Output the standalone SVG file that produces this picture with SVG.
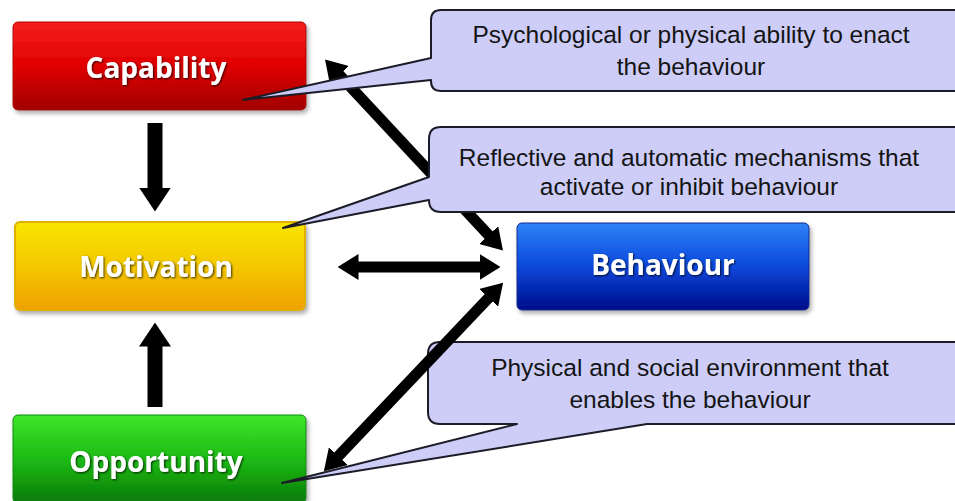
<svg xmlns="http://www.w3.org/2000/svg" width="955" height="501" viewBox="0 0 955 501">
<defs>
  <linearGradient id="gRed" x1="0" y1="0" x2="0" y2="1">
    <stop offset="0" stop-color="#f42020"/>
    <stop offset="0.5" stop-color="#e00000"/>
    <stop offset="1" stop-color="#a00000"/>
  </linearGradient>
  <linearGradient id="gYellow" x1="0" y1="0" x2="0" y2="1">
    <stop offset="0" stop-color="#f8e600"/>
    <stop offset="0.5" stop-color="#f4c800"/>
    <stop offset="1" stop-color="#f0a000"/>
  </linearGradient>
  <linearGradient id="gGreen" x1="0" y1="0" x2="0" y2="1">
    <stop offset="0" stop-color="#3ee52a"/>
    <stop offset="0.5" stop-color="#1dbb14"/>
    <stop offset="1" stop-color="#097a09"/>
  </linearGradient>
  <linearGradient id="gBlue" x1="0" y1="0" x2="0" y2="1">
    <stop offset="0" stop-color="#2f82f6"/>
    <stop offset="0.5" stop-color="#0a48dc"/>
    <stop offset="1" stop-color="#000c8a"/>
  </linearGradient>
  <filter id="boxShadow" x="-10%" y="-10%" width="125%" height="130%">
    <feDropShadow dx="2" dy="3" stdDeviation="2" flood-color="#777" flood-opacity="0.6"/>
  </filter>
  <filter id="txtShadow" x="-10%" y="-20%" width="125%" height="150%">
    <feDropShadow dx="1" dy="1" stdDeviation="0.8" flood-color="#000" flood-opacity="0.8"/>
  </filter>
  <marker id="headBig" markerUnits="userSpaceOnUse" viewBox="0 0 24 32" markerWidth="24" markerHeight="32" refX="0.5" refY="16" orient="auto-start-reverse">
    <path d="M0,0 L24,16 L0,32 Z" fill="#000"/>
  </marker>
  <marker id="headSmall" markerUnits="userSpaceOnUse" viewBox="0 0 21 26" markerWidth="21" markerHeight="26" refX="0.5" refY="13" orient="auto-start-reverse">
    <path d="M0,0 L21,13 L0,26 Z" fill="#000"/>
  </marker>
</defs>
<style>
  .box text { font-family: "Open Sans", "DejaVu Sans", sans-serif; font-weight: bold; font-size: 28px; fill: #fff; text-anchor: middle; filter: url(#txtShadow); }
  .callout path { fill: #cdcdf7; stroke: #1c1c28; stroke-width: 2; stroke-linejoin: round; }
  .callout text { font-family: "Liberation Sans", Arial, sans-serif; font-size: 24.5px; fill: #141414; text-anchor: middle; }
  .big { stroke: #000; stroke-width: 15; fill: none; marker-end: url(#headBig); }
  .dbl { stroke: #000; stroke-width: 11; fill: none; marker-start: url(#headSmall); marker-end: url(#headSmall); }
</style>
<rect width="955" height="501" fill="#fff"/>

<g id="capability" class="box">
  <rect x="13" y="22" width="293" height="88" rx="5" fill="url(#gRed)" stroke="#b00000" stroke-width="1" filter="url(#boxShadow)"/>
  <text x="156" y="78">Capability</text>
</g>
<g id="motivation" class="box">
  <rect x="15" y="222" width="290" height="88" rx="5" fill="url(#gYellow)" stroke="#e0b000" stroke-width="2" filter="url(#boxShadow)"/>
  <text x="156" y="277">Motivation</text>
</g>
<g id="opportunity" class="box">
  <rect x="13" y="415" width="293" height="88" rx="5" fill="url(#gGreen)" stroke="#0a8a0a" stroke-width="1" filter="url(#boxShadow)"/>
  <text x="156" y="472">Opportunity</text>
</g>
<g id="behaviour" class="box">
  <rect x="517" y="223" width="292" height="87" rx="5" fill="url(#gBlue)" stroke="#0a2a90" stroke-width="1" filter="url(#boxShadow)"/>
  <text x="663" y="275">Behaviour</text>
</g>

<g id="callout-opportunity" class="callout">
  <path d="M440,342 H965 V424 H647 L282,483 L517,424 H440 Q428,424 428,412 V354 Q428,342 440,342 Z"/>
  <text x="690" y="376">Physical and social environment that</text>
  <text x="690" y="408">enables the behaviour</text>
</g>

<g id="connectors">
  <line class="big" x1="155" y1="123" x2="155" y2="188"/>
  <line class="big" x1="155" y1="407" x2="155" y2="346"/>
  <line class="dbl" x1="358" y1="267" x2="480" y2="267"/>
  <line class="dbl" x1="339" y1="74.6" x2="489" y2="235.4"/>
  <line class="dbl" x1="489" y1="297.5" x2="338" y2="456.5"/>
</g>

<g id="callout-capability" class="callout">
  <path d="M441,10 H965 V91 H441 Q431,91 431,81 V80 L243,100 L431,58 V20 Q431,10 441,10 Z"/>
  <text x="691" y="43">Psychological or physical ability to enact</text>
  <text x="691" y="75">the behaviour</text>
</g>
<g id="callout-motivation" class="callout">
  <path d="M441,127 H965 V212 H441 Q429,212 429,200 L283,228 L429,177 V139 Q429,127 441,127 Z"/>
  <text x="689" y="166">Reflective and automatic mechanisms that</text>
  <text x="689" y="195">activate or inhibit behaviour</text>
</g>
</svg>
